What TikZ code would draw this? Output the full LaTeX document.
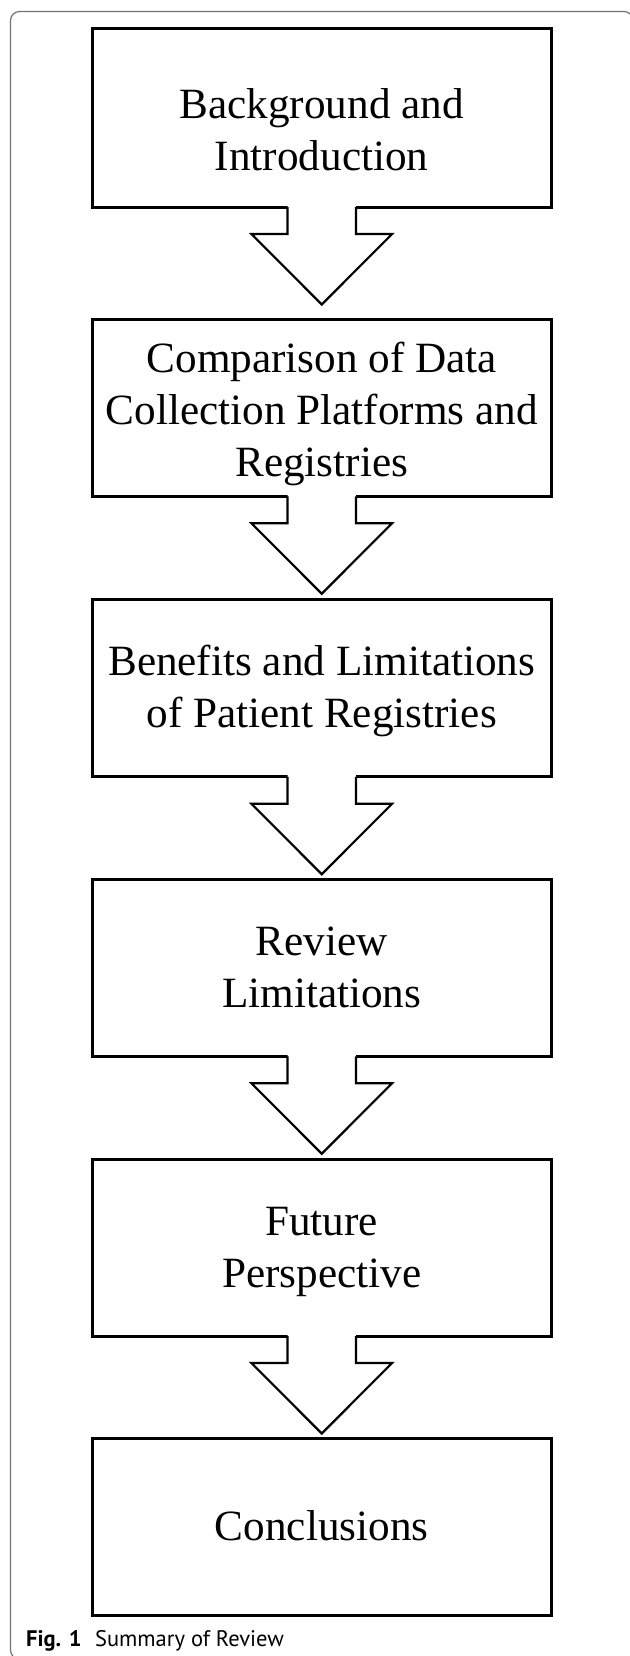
\documentclass[tikz,border=0pt]{standalone}
\usepackage{fontspec}
\setmainfont{Liberation Serif}
\newfontfamily\capfont{PT Sans}
\usetikzlibrary{calc}
\newcommand\blockarrow[1]{%
  \fill[white] ($(#1.south)+(-34.2,-2)$) -- ($(#1.south)+(-34.2,27)$) -- ($(#1.south)+(-70.3,27)$) -- ($(#1.south)+(0,97.5)$) -- ($(#1.south)+(70.3,27)$) -- ($(#1.south)+(34.2,27)$) -- ($(#1.south)+(34.2,-2)$) -- cycle;
  \draw[blockarrow] ($(#1.south)+(-34.2,0)$) -- ++(0,27) -- ++(-36.1,0) -- ++(70.3,70.5) -- ++(70.3,-70.5) -- ++(-36.1,0) -- ++(0,-27);
}
\begin{document}
\begin{tikzpicture}[x=1pt,y=-1pt,
  stepbox/.style={draw, line width=3pt, minimum width=459pt, minimum height=177pt, inner sep=0pt, outer sep=0pt},
  boxtext/.style={align=center, font=\fontsize{43.2}{52}\selectfont, inner sep=0pt},
  blockarrow/.style={line width=2.2pt, line join=miter},
]
\useasboundingbox (0,0) rectangle (629,1656);
\draw[black!55, line width=1.2pt, rounded corners=9pt] (10.5,11.5) rectangle (633,1659);

\node[stepbox, minimum height=178.5pt] (b1) at (321.75,117.75) {};
\node[stepbox] (b2) at (321.75,407.75) {};
\node[stepbox] (b3) at (321.75,688.25) {};
\node[stepbox] (b4) at (321.75,967.75) {};
\node[stepbox] (b5) at (321.75,1247.5) {};
\node[stepbox] (b6) at (321.75,1526.75) {};

\node[boxtext, yshift=-16.5pt] (t1) at (b1.center) {\strut Background and\\\strut Introduction};
\node[boxtext, yshift=-6.1pt] (t2) at (b2.center) {\strut Comparison of Data\\\strut Collection Platforms and\\\strut Registries};
\node[boxtext, yshift=-3pt] (t3) at (b3.center) {\strut Benefits and Limitations\\\strut of Patient Registries};
\node[boxtext, yshift=-3pt] (t4) at (b4.center) {\strut Review\\\strut Limitations};
\node[boxtext, yshift=-3.5pt] (t5) at (b5.center) {\strut Future\\\strut Perspective};
\node[boxtext, yshift=-3.5pt] (t6) at (b6.center) {\strut Conclusions};

\blockarrow{b1}
\blockarrow{b2}
\blockarrow{b3}
\blockarrow{b4}
\blockarrow{b5}

\node[anchor=base west, inner sep=0pt, font=\capfont\fontsize{22.5}{27}\selectfont] (cap) at (26,1646) {\textbf{Fig. 1}\hspace{0.6em}Summary of Review};
\end{tikzpicture}
\end{document}
